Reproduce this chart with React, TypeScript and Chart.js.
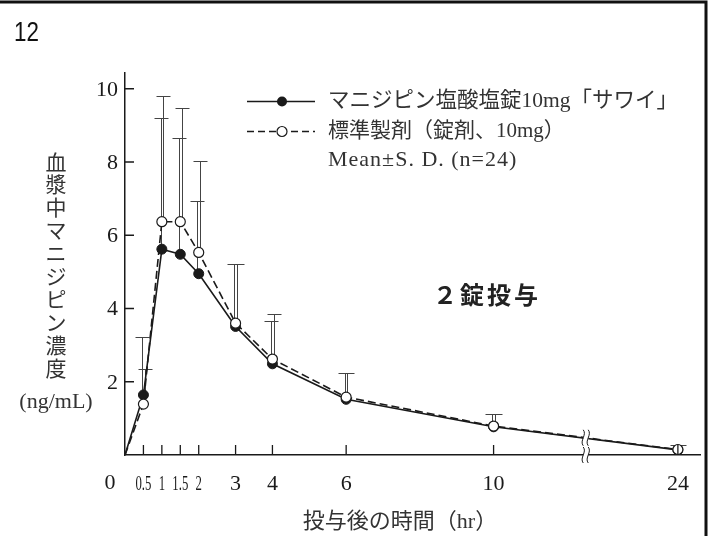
import { useEffect, useRef } from "react";
import { Chart, registerables } from "chart.js";

Chart.register(...registerables);

// Sampling times (hr) and plasma manidipine concentrations (ng/mL), n=24
const hours = [0, 0.5, 1, 1.5, 2, 3, 4, 6, 10, 24];
const testMean = [0, 1.64, 5.62, 5.48, 4.95, 3.51, 2.49, 1.52, 0.77, 0.14];
const testSD = [0, 1.57, 3.58, 3.17, 1.99, 1.7, 1.17, 0.73, 0.35, 0.13];
const refMean = [0, 1.39, 6.37, 6.37, 5.53, 3.6, 2.62, 1.58, 0.79, 0.15];
const refSD = [0, 0.97, 3.44, 3.1, 2.5, 1.61, 1.22, 0.67, 0.33, 0.12];

const xTickHours = [0.5, 1, 1.5, 2, 3, 4, 6, 10, 24];
const xTickLabels = ["0.5", "1", "1.5", "2", "3", "4", "6", "10", "24"];
const narrowTickLabels = ["0.5", "1", "1.5", "2"];
const yTicks = [2, 4, 6, 8, 10];
const yTickLabels = ["2", "4", "6", "8", "10"];

const testLabel = "マニジピン塩酸塩錠10mg「サワイ」";
const refLabel = "標準製剤（錠剤、10mg）";
const statLabel = "Mean±S. D. (n=24)";
const doseNote = "２錠投与";
const yTitle = "血漿中マニジピン濃度";
const yUnit = "(ng/mL)";
const xTitle = "投与後の時間（hr）";
const panelNo = "12";

// Broken time axis: linear up to the break, compressed after it
const BREAK_HR = 12.5;
const TAIL_SCALE = 2.5 / 11.5;
const axisPos = (h: number) =>
  h <= BREAK_HR ? h : BREAK_HR + (h - BREAK_HR) * TAIL_SCALE;

const SERIF = "'Liberation Serif', 'Noto Sans CJK JP', serif";
const INK = "#1a1a1a";
const TEXT = "#333";

const overlay = {
  id: "pkOverlay",
  beforeDatasetsDraw(chart: any) {
    const { ctx, scales } = chart;
    const xs = scales.x;
    const ys = scales.y;
    const series = [
      { mean: testMean, sd: testSD, off: -1.3 },
      { mean: refMean, sd: refSD, off: 1.3 },
    ];
    ctx.save();
    ctx.strokeStyle = "#444";
    ctx.lineWidth = 1;
    for (const s of series) {
      hours.forEach((h, i) => {
        if (!s.sd[i]) return;
        const x = Math.round(xs.getPixelForValue(axisPos(h)) + s.off) + 0.5;
        const y0 = ys.getPixelForValue(s.mean[i]);
        const y1 = Math.round(ys.getPixelForValue(s.mean[i] + s.sd[i])) + 0.5;
        ctx.beginPath();
        ctx.moveTo(x, y0);
        ctx.lineTo(x, y1);
        ctx.moveTo(x - 7, y1);
        ctx.lineTo(x + 7, y1);
        ctx.stroke();
      });
    }
    ctx.restore();
  },
  afterDatasetsDraw(chart: any) {
    const { ctx, scales, chartArea } = chart;
    const xs = scales.x;
    const ys = scales.y;
    const left = chartArea.left;
    const bottom = chartArea.bottom;

    ctx.save();

    // break marks on the axis and on the curve
    const xb = xs.getPixelForValue(BREAK_HR);
    const meta = chart.getDatasetMeta(1);
    const pA = meta.data[hours.indexOf(10)];
    const pB = meta.data[hours.indexOf(24)];
    const yLine = pA.y + ((xb - pA.x) / (pB.x - pA.x)) * (pB.y - pA.y);
    const breakAt = (yc: number) => {
      ctx.fillStyle = "#fff";
      ctx.fillRect(xb - 2.5, yc - 3, 5, 6);
      ctx.strokeStyle = INK;
      ctx.lineWidth = 1;
      for (const dx of [-2.5, 2.5]) {
        const x = xb + dx;
        ctx.beginPath();
        ctx.moveTo(x, yc - 8);
        ctx.bezierCurveTo(x + 4, yc - 3, x - 4, yc + 3, x, yc + 8);
        ctx.stroke();
      }
    };
    breakAt(bottom);
    breakAt(yLine);

    // inward tick marks
    ctx.strokeStyle = INK;
    ctx.lineWidth = 1.3;
    ctx.beginPath();
    for (const h of xTickHours) {
      const x = xs.getPixelForValue(axisPos(h));
      ctx.moveTo(x, bottom);
      ctx.lineTo(x, bottom - 10);
    }
    for (const v of yTicks) {
      const y = ys.getPixelForValue(v);
      ctx.moveTo(left, y);
      ctx.lineTo(left + 9, y);
    }
    ctx.stroke();

    // tick labels
    ctx.fillStyle = INK;
    ctx.font = `22px ${SERIF}`;
    ctx.textBaseline = "middle";
    ctx.textAlign = "right";
    yTicks.forEach((v, i) => {
      ctx.fillText(yTickLabels[i], left - 7, ys.getPixelForValue(v) + 1);
    });
    ctx.textAlign = "center";
    ctx.fillText("0", left - 15, bottom + 28);
    xTickHours.forEach((h, i) => {
      const x = xs.getPixelForValue(axisPos(h));
      const label = xTickLabels[i];
      ctx.save();
      ctx.translate(x, bottom + 29);
      if (narrowTickLabels.includes(label)) ctx.scale(0.58, 1);
      ctx.fillText(label, 0, 0);
      ctx.restore();
    });

    // axis titles
    ctx.fillStyle = TEXT;
    ctx.font = `21px ${SERIF}`;
    Array.from(yTitle).forEach((ch, i) => {
      ctx.fillText(ch, 56, 164 + i * 22.9);
    });
    ctx.font = `22px ${SERIF}`;
    ctx.fillText(yUnit, 56, 402);
    ctx.font = `22px ${SERIF}`;
    ctx.fillText(xTitle, 400, 522);

    // legend
    const lx0 = 247;
    const lx1 = 315;
    const mx = 282;
    const rows = [101.5, 131.5, 160.5];
    ctx.strokeStyle = INK;
    ctx.lineWidth = 1.6;
    ctx.beginPath();
    ctx.moveTo(lx0, rows[0]);
    ctx.lineTo(lx1, rows[0]);
    ctx.stroke();
    ctx.fillStyle = INK;
    ctx.beginPath();
    ctx.arc(mx, rows[0], 5, 0, Math.PI * 2);
    ctx.fill();
    ctx.setLineDash([7, 4]);
    ctx.beginPath();
    ctx.moveTo(lx0, rows[1]);
    ctx.lineTo(lx1, rows[1]);
    ctx.stroke();
    ctx.setLineDash([]);
    ctx.fillStyle = "#fff";
    ctx.lineWidth = 1.2;
    ctx.beginPath();
    ctx.arc(mx, rows[1], 5, 0, Math.PI * 2);
    ctx.fill();
    ctx.stroke();
    ctx.fillStyle = TEXT;
    ctx.textAlign = "left";
    ctx.font = `21.5px ${SERIF}`;
    ctx.fillText(testLabel, 328, rows[0]);
    ctx.font = `21px ${SERIF}`;
    ctx.fillText(refLabel, 328, rows[1]);
    ctx.font = `22px ${SERIF}`;
    (ctx as any).letterSpacing = "1px";
    ctx.fillText(statLabel, 328, rows[2]);
    (ctx as any).letterSpacing = "0px";

    // dose annotation
    ctx.fillStyle = "#222";
    ctx.font = "bold 24px 'Noto Sans CJK JP', sans-serif";
    ctx.textAlign = "center";
    (ctx as any).letterSpacing = "3px";
    ctx.fillText(doseNote, 487, 295);
    (ctx as any).letterSpacing = "0px";

    // panel number
    ctx.fillStyle = "#111";
    ctx.font = "28px 'Liberation Sans', sans-serif";
    ctx.textAlign = "left";
    ctx.textBaseline = "alphabetic";
    ctx.save();
    ctx.translate(14, 41);
    ctx.scale(0.8, 1);
    ctx.fillText(panelNo, 0, 0);
    ctx.restore();

    // frame
    ctx.strokeStyle = "#111";
    ctx.lineWidth = 3;
    ctx.beginPath();
    ctx.moveTo(0, 2);
    ctx.lineTo(706, 2);
    ctx.lineTo(706, 536);
    ctx.stroke();

    ctx.restore();
  },
};

export default function App() {
  const canvasRef = useRef<HTMLCanvasElement | null>(null);

  useEffect(() => {
    const canvas = canvasRef.current;
    if (!canvas) return;
    const toPoints = (vals: number[]) =>
      hours.map((h, i) => ({ x: axisPos(h), y: vals[i] }));
    const radius = (c: any) => (c.dataIndex === 0 ? 0 : 5);

    const chart = new Chart(canvas, {
      type: "line",
      data: {
        datasets: [
          {
            label: testLabel,
            data: toPoints(testMean),
            borderColor: INK,
            borderWidth: 1.6,
            backgroundColor: INK,
            pointBackgroundColor: INK,
            pointBorderColor: INK,
            pointBorderWidth: 1,
            pointRadius: radius,
            tension: 0,
            order: 2,
          },
          {
            label: refLabel,
            data: toPoints(refMean),
            borderColor: INK,
            borderWidth: 1.6,
            borderDash: [8, 4],
            backgroundColor: "#fff",
            pointBackgroundColor: "#fff",
            pointBorderColor: INK,
            pointBorderWidth: 1.2,
            pointRadius: radius,
            tension: 0,
            order: 1,
          },
        ],
      },
      options: {
        responsive: false,
        animation: false,
        events: [],
        layout: { padding: { left: 125, right: 13, top: 73, bottom: 81 } },
        plugins: {
          legend: { display: false },
          tooltip: { enabled: false },
          title: { display: false },
        },
        scales: {
          x: {
            type: "linear",
            min: 0,
            max: 15.6,
            ticks: { display: false },
            grid: { display: false, drawTicks: false },
            border: { display: true, color: INK, width: 1.5 },
          },
          y: {
            type: "linear",
            min: 0,
            max: 10.43,
            ticks: { display: false },
            grid: { display: false, drawTicks: false },
            border: { display: true, color: INK, width: 1.5 },
          },
        },
      },
      plugins: [overlay],
    });
    return () => chart.destroy();
  }, []);

  return (
    <div
      style={{
        position: "absolute",
        left: 0,
        top: 0,
        width: 713,
        height: 536,
        background: "#fff",
      }}
    >
      <canvas ref={canvasRef} width={713} height={536} />
    </div>
  );
}
